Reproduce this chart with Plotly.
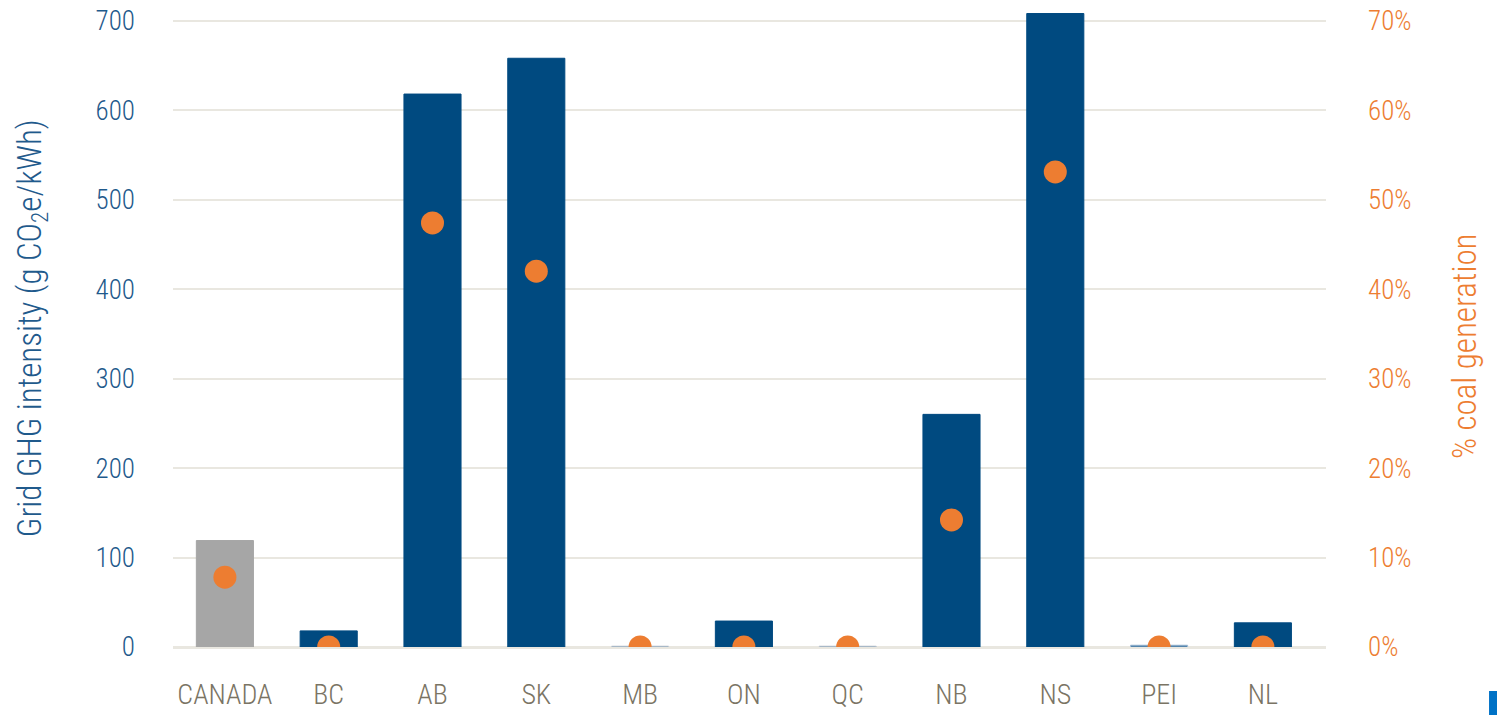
import plotly.graph_objects as go

# Provincial grid intensity and share of coal-fired generation
regions = ["CANADA", "BC", "AB", "SK", "MB", "ON", "QC", "NB", "NS", "PEI", "NL"]
ghg_intensity = [119, 18, 618, 658, 1, 29, 1, 260, 708, 2, 27]   # g CO2e/kWh
coal_share = [7.8, 0, 47.4, 42.0, 0, 0, 0, 14.2, 53.1, 0, 0]     # % of generation

left_ticks = [0, 100, 200, 300, 400, 500, 600, 700]
right_ticks = [0, 10, 20, 30, 40, 50, 60, 70]
right_labels = [f"{v}%" for v in right_ticks]

BLUE = "#004A80"
GREY = "#A6A6A6"
ORANGE = "#ED7D31"
AXIS_BLUE = "#1F5A8C"
LABEL_GREY = "#7A7464"
GRID = "#E9E7E0"

bar_colors = [GREY] + [BLUE] * (len(regions) - 1)
bar_lines = [GREY, BLUE, BLUE, BLUE, "#D0D3D8", BLUE, "#D0D3D8", BLUE, BLUE, "#A8C0D8", BLUE]

COND = "Roboto Condensed, Open Sans, sans-serif"

fig = go.Figure()
fig.add_trace(go.Bar(
    x=regions, y=ghg_intensity, width=0.55,
    marker=dict(color=bar_colors, line=dict(color=bar_lines, width=1)),
    yaxis="y", showlegend=False, hoverinfo="x+y",
))
fig.add_trace(go.Scatter(
    x=regions, y=coal_share, mode="markers",
    marker=dict(color=ORANGE, size=23),
    yaxis="y2", showlegend=False,
))

fig.update_layout(
    width=1497, height=715,
    margin=dict(l=173, r=171, t=1, b=68),
    paper_bgcolor="white", plot_bgcolor="white",
    bargap=0.45,
    xaxis=dict(
        range=[-0.5, 10.608], showgrid=False, zeroline=False, showline=False,
        tickfont=dict(family=COND, size=28, color=LABEL_GREY, weight=300),
        ticklabelstandoff=28,
    ),
    yaxis=dict(
        range=[0, 722], tickvals=left_ticks, showline=False,
        gridcolor=GRID, gridwidth=1.5,
        zeroline=True, zerolinecolor=GRID, zerolinewidth=3,
        tickfont=dict(family=COND, size=27, color=AXIS_BLUE, weight=300),
        ticklabelstandoff=37,
    ),
    yaxis2=dict(
        range=[0, 72.2], tickvals=right_ticks, ticktext=right_labels,
        overlaying="y", side="right", showgrid=False, zeroline=False,
        tickfont=dict(family=COND, size=27, color=ORANGE, weight=300),
        ticklabelstandoff=41,
    ),
    annotations=[
        dict(text="Grid GHG intensity (g CO<sub>2</sub>e/kWh)", textangle=-90,
             xref="paper", yref="paper", x=-0.122, y=0.494,
             xanchor="center", yanchor="middle", showarrow=False,
             font=dict(family=COND, size=33, color=AXIS_BLUE, weight=300)),
        dict(text="% coal generation", textangle=-90,
             xref="paper", yref="paper", x=1.1205, y=0.466,
             xanchor="center", yanchor="middle", showarrow=False,
             font=dict(family=COND, size=33, color=ORANGE, weight=300)),
    ],
    shapes=[
        dict(type="rect", xref="paper", yref="paper",
             x0=1.1414, x1=1.1483, y0=-0.1053, y1=-0.0681,
             fillcolor="#0072C6", line=dict(width=0)),
    ],
)

fig.write_html("out.html")
